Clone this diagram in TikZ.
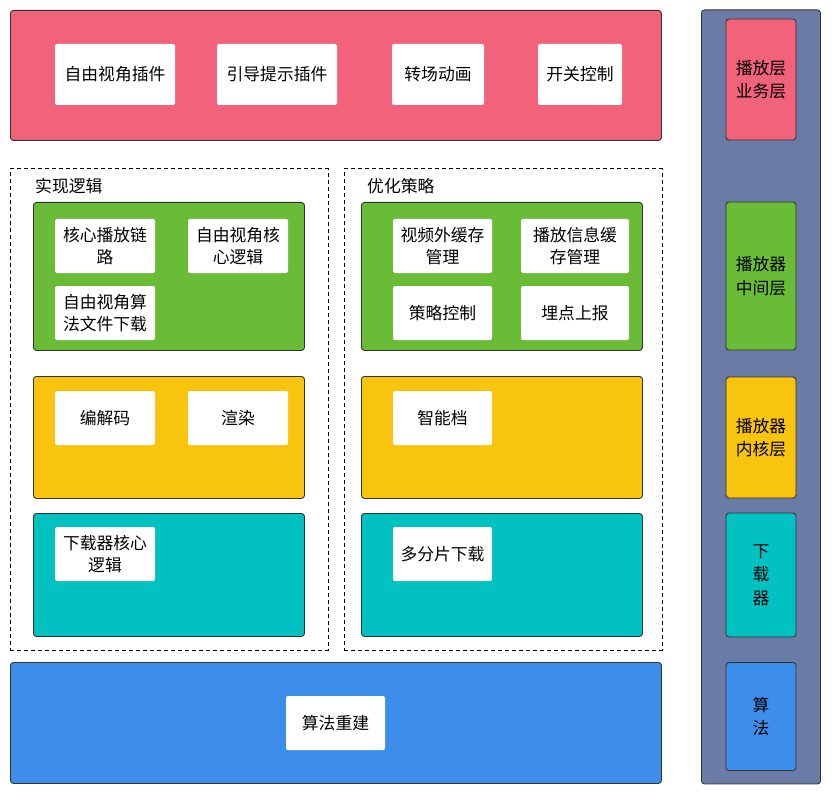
\documentclass[tikz,border=0pt]{standalone}
\usepackage{fontspec}
\setmainfont{Noto Sans CJK SC}
\definecolor{cred}{HTML}{F2637B}
\definecolor{cgreen}{HTML}{6ABC36}
\definecolor{cyellow}{HTML}{F8C40E}
\definecolor{ccyan}{HTML}{02C1C1}
\definecolor{cblue}{HTML}{3D8EEB}
\definecolor{cside}{HTML}{6A7BA5}
\begin{document}
\begin{tikzpicture}[x=1pt,y=-1pt,
  layer/.style={draw=black!80,line width=0.9pt,rounded corners=3pt},
  dashbox/.style={draw=black,line width=0.8pt,dash pattern=on 4pt off 3pt},
  wbox/.style={fill=white,rounded corners=2pt,inner sep=0pt,align=center,
    font=\fontsize{16.8}{22}\selectfont},
  sbox/.style={draw=black!80,line width=0.9pt,rounded corners=3pt,inner sep=0pt,
    align=center,minimum width=70pt,font=\fontsize{16.8}{23.5}\selectfont},
  lbl/.style={anchor=west,inner sep=0pt,font=\fontsize{16.8}{22}\selectfont}]
\useasboundingbox (0,0) rectangle (832,794);
\fill[white] (0,0) rectangle (832,794);
% top layer
\node[layer,fill=cred,anchor=north west,minimum width=651pt,minimum height=130pt,inner sep=0pt] (top) at (10,10) {};
\node[wbox,minimum width=120pt,minimum height=61pt] (t1) at (115,74.5) {自由视角插件};
\node[wbox,minimum width=120pt,minimum height=61pt] (t2) at (277,74.5) {引导提示插件};
\node[wbox,minimum width=92pt,minimum height=61pt] (t3) at (438,74.5) {转场动画};
\node[wbox,minimum width=84pt,minimum height=61pt] (t4) at (580,74.5) {开关控制};
% dashed groups
\node[dashbox,anchor=north west,minimum width=318pt,minimum height=481pt,inner sep=0pt] (gl) at (9.5,168.5) {};
\node[dashbox,anchor=north west,minimum width=318pt,minimum height=481pt,inner sep=0pt] (gr) at (343.5,168.5) {};
\node[lbl] (gll) at (35,186) {实现逻辑};
\node[lbl] (grl) at (367,186) {优化策略};
% green
\node[layer,fill=cgreen,anchor=north west,minimum width=271pt,minimum height=148pt,inner sep=0pt] (gL) at (33,202) {};
\node[layer,fill=cgreen,anchor=north west,minimum width=281pt,minimum height=148pt,inner sep=0pt] (gR) at (361,202) {};
\node[wbox,minimum width=100pt,minimum height=54pt] (g1) at (105,246) {核心播放链\\路};
\node[wbox,minimum width=100pt,minimum height=54pt] (g2) at (238,246) {自由视角核\\心逻辑};
\node[wbox,minimum width=100pt,minimum height=54pt] (g3) at (105,313) {自由视角算\\法文件下载};
\node[wbox,minimum width=99pt,minimum height=54pt] (g4) at (442.5,246) {视频外缓存\\管理};
\node[wbox,minimum width=108pt,minimum height=54pt] (g5) at (575,246) {播放信息缓\\存管理};
\node[wbox,minimum width=99pt,minimum height=54pt] (g6) at (442.5,313) {策略控制};
\node[wbox,minimum width=108pt,minimum height=54pt] (g7) at (575,313) {埋点上报};
% yellow
\node[layer,fill=cyellow,anchor=north west,minimum width=271pt,minimum height=122pt,inner sep=0pt] (yL) at (33,376) {};
\node[layer,fill=cyellow,anchor=north west,minimum width=281pt,minimum height=122pt,inner sep=0pt] (yR) at (361,376) {};
\node[wbox,minimum width=100pt,minimum height=54pt] (y1) at (105,418) {编解码};
\node[wbox,minimum width=100pt,minimum height=54pt] (y2) at (238,418) {渲染};
\node[wbox,minimum width=99pt,minimum height=54pt] (y3) at (442.5,418) {智能档};
% cyan
\node[layer,fill=ccyan,anchor=north west,minimum width=271pt,minimum height=123pt,inner sep=0pt] (cL) at (33,513) {};
\node[layer,fill=ccyan,anchor=north west,minimum width=281pt,minimum height=123pt,inner sep=0pt] (cR) at (361,513) {};
\node[wbox,minimum width=100pt,minimum height=54pt] (c1) at (105,554) {下载器核心\\逻辑};
\node[wbox,minimum width=99pt,minimum height=54pt] (c2) at (442.5,554) {多分片下载};
% blue
\node[layer,fill=cblue,anchor=north west,minimum width=651pt,minimum height=121pt,inner sep=0pt] (bot) at (10,662) {};
\node[wbox,minimum width=99pt,minimum height=54pt] (b1) at (335.5,723) {算法重建};
% sidebar
\node[layer,fill=cside,anchor=north west,minimum width=119pt,minimum height=774pt,inner sep=0pt] (side) at (701,9.5) {};
\node[sbox,fill=cred,minimum height=121pt] (s1) at (761,79.5) {播放层\\业务层};
\node[sbox,fill=cgreen,minimum height=148pt] (s2) at (761,276) {播放器\\中间层};
\node[sbox,fill=cyellow,minimum height=121pt] (s3) at (761,437.5) {播放器\\内核层};
\node[sbox,fill=ccyan,minimum height=124pt] (s4) at (761,575) {下\\载\\器};
\node[sbox,fill=cblue,minimum height=108pt] (s5) at (761,716.5) {算\\法};
\end{tikzpicture}
\end{document}
